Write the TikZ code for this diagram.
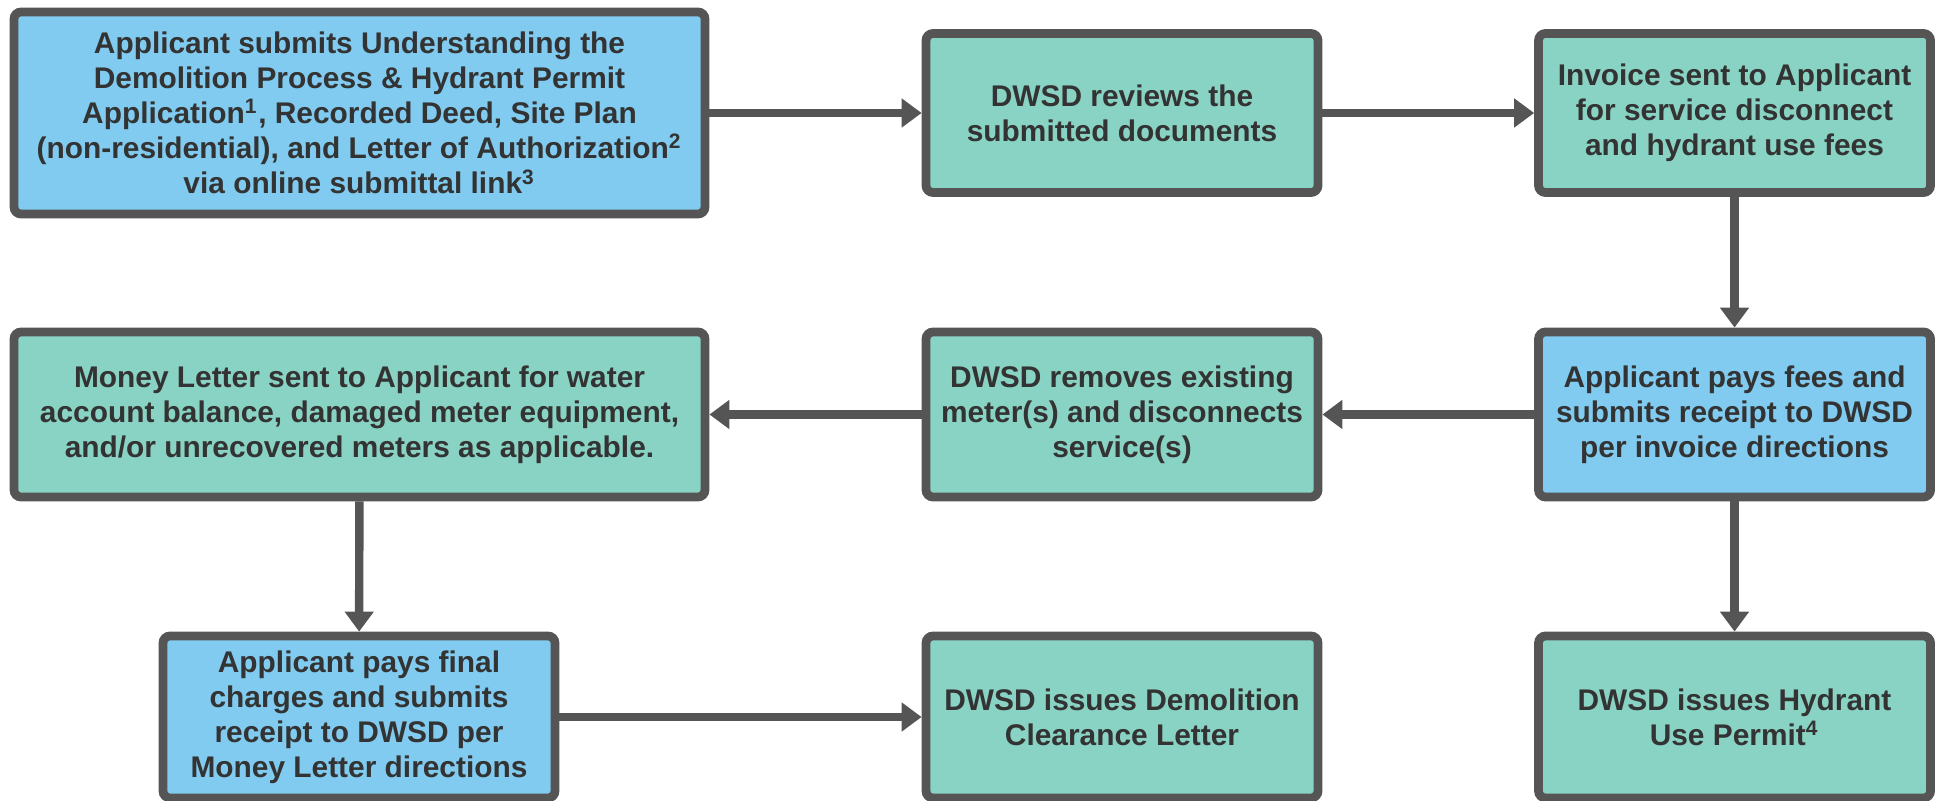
\documentclass[tikz,border=0pt]{standalone}
\usepackage{fontspec}
\setmainfont{Liberation Sans}
\usetikzlibrary{arrows.meta}
\definecolor{boxblue}{HTML}{80CBEF}
\definecolor{boxgreen}{HTML}{89D3C4}
\definecolor{edgegray}{HTML}{555555}
\definecolor{textgray}{HTML}{333333}
\begin{document}
\begin{tikzpicture}[
  box/.style={draw=edgegray, line width=2.5pt, rounded corners=2pt, align=center,
    text=textgray, inner sep=0pt, font=\bfseries\fontsize{8.5}{10}\selectfont},
  bluebox/.style={box, fill=boxblue},
  greenbox/.style={box, fill=boxgreen},
  wide/.style={minimum width=6.91cm},
  narrow/.style={minimum width=3.92cm},
  flow/.style={draw=edgegray, line width=2.4pt, -{Triangle[length=0.2cm,width=0.28cm]}}]
\useasboundingbox (0,0) rectangle (19.41,-8.0);
% top row
\node[bluebox, wide, minimum height=2.02cm] (submit) at (3.595,-1.13) {Applicant submits Understanding the\\Demolition Process \& Hydrant Permit\\Application\textsuperscript{1}, Recorded Deed, Site Plan\\(non-residential), and Letter of Authorization\textsuperscript{2}\\via online submittal link\textsuperscript{3}};
\node[greenbox, narrow, minimum height=1.59cm] (review) at (11.22,-1.13) {DWSD reviews the\\submitted documents};
\node[greenbox, narrow, minimum height=1.59cm] (invoice) at (17.345,-1.13) {Invoice sent to Applicant\\for service disconnect\\and hydrant use fees};
% middle row
\node[greenbox, wide, minimum height=1.65cm] (money) at (3.595,-4.145) {Money Letter sent to Applicant for water\\account balance, damaged meter equipment,\\and/or unrecovered meters as applicable.};
\node[greenbox, narrow, minimum height=1.65cm] (remove) at (11.22,-4.145) {DWSD removes existing\\meter(s) and disconnects\\service(s)};
\node[bluebox, narrow, minimum height=1.65cm] (payfees) at (17.345,-4.145) {Applicant pays fees and\\submits receipt to DWSD\\per invoice directions};
% bottom row
\node[bluebox, narrow, minimum height=1.62cm] (payfinal) at (3.59,-7.17) {Applicant pays final\\charges and submits\\receipt to DWSD per\\Money Letter directions};
\node[greenbox, narrow, minimum height=1.62cm] (clearance) at (11.22,-7.17) {DWSD issues Demolition\\Clearance Letter};
\node[greenbox, narrow, minimum height=1.62cm] (hydrant) at (17.345,-7.17) {DWSD issues Hydrant\\Use Permit\textsuperscript{4}};
% connectors
\draw[flow] (submit) -- (review);
\draw[flow] (review) -- (invoice);
\draw[flow] (invoice) -- (payfees);
\draw[flow] (payfees) -- (remove);
\draw[flow] (remove) -- (money);
\draw[flow] (money) -- (payfinal);
\draw[flow] (payfinal) -- (clearance);
\draw[flow] (payfees) -- (hydrant);
\end{tikzpicture}
\end{document}
